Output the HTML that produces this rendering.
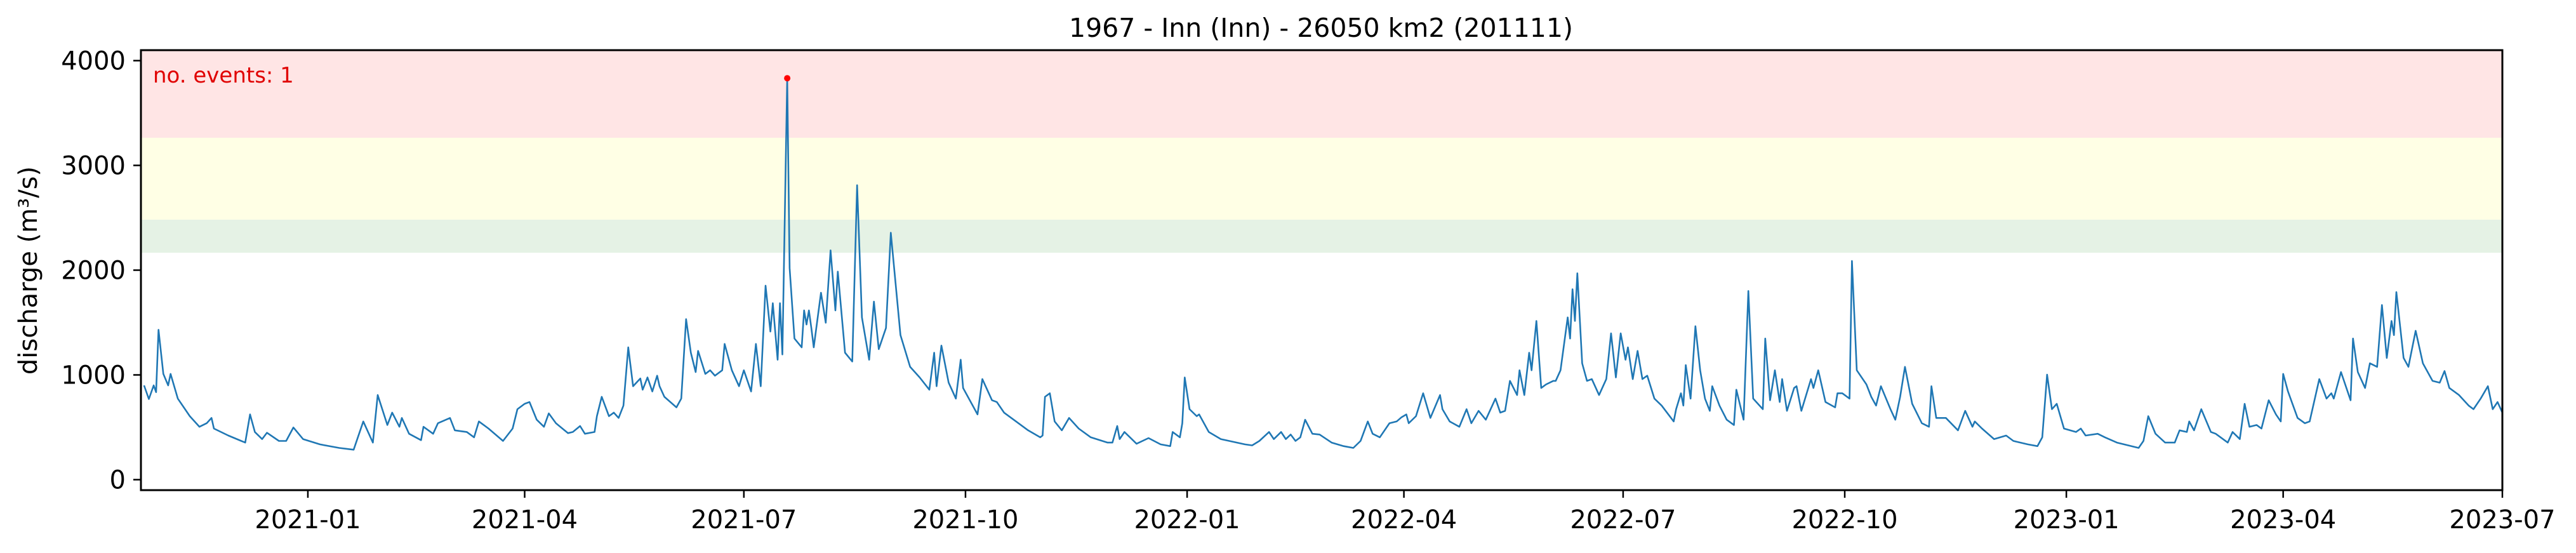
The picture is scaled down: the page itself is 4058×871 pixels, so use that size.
<!DOCTYPE html>
<html><head><meta charset="utf-8"><style>
html,body{margin:0;padding:0;background:#fff;}
svg{display:block;font-family:"DejaVu Sans","Liberation Sans",sans-serif;}
</style></head><body>
<svg id="chart" width="4058" height="871" viewBox="0 0 4058 871" xmlns="http://www.w3.org/2000/svg">
<g id="bands"></g>
<g id="series"></g>
<g id="axes"></g>
<text x="2081" y="58" font-size="41" text-anchor="middle" fill="#000">1967 - Inn (Inn) - 26050 km2 (201111)</text>
<text transform="translate(58,426) rotate(-90)" font-size="40" text-anchor="middle" fill="#000">discharge (m³/s)</text>
<text x="241" y="130" font-size="34" fill="#e00000">no. events: 1</text>
</svg>
<script>
// day offsets from 2021-01-01
const days = [-68,-66,-64,-63,-62,-60,-58,-57,-54,-49,-45,-42,-40,-39,-33,-26,-24,-22,-19,-17,-12,-9,-6,-2,5,13,19,23,27,29,33,35,38,39,42,47,48,52,54,59,61,66,69,71,75,81,85,87,90,92,95,98,100,103,108,110,113,115,119,120,122,125,127,129,131,133,135,138,139,141,143,145,146,148,153,155,157,159,161,162,165,167,169,172,173,176,179,181,184,186,188,190,192,193,195,196,197,199,200,202,205,206,207,208,209,210,213,215,217,219,220,223,226,228,230,233,235,237,240,242,246,250,254,258,260,261,263,266,269,271,272,276,278,280,284,286,289,294,299,304,305,306,308,310,313,316,320,325,332,334,336,337,339,344,349,354,358,359,362,363,364,366,369,370,374,379,389,392,395,399,401,404,406,408,410,412,414,417,420,425,430,434,437,440,442,445,449,452,454,456,457,460,463,466,470,471,474,478,481,483,486,489,493,495,497,499,502,503,505,507,508,510,512,514,517,518,520,523,524,525,526,527,529,531,533,536,539,541,543,545,547,548,550,552,554,556,559,562,567,568,570,571,572,574,576,578,580,582,583,586,589,592,593,596,598,600,604,605,607,609,611,612,614,617,618,620,624,625,627,630,634,635,637,640,641,643,647,649,651,653,657,659,661,663,666,670,673,674,676,680,685,688,691,692,695,700,705,708,714,718,720,722,724,726,729,734,736,738,743,746,751,760,762,764,767,771,775,777,780,781,783,786,790,792,797,799,802,804,806,809,811,814,817,819,820,822,826,829,831,835,838,840,841,844,848,849,851,854,856,859,861,863,865,866,867,870,872,875,878,882,885,887,889,893,897,899,902,905,907,909,911];
const discharge = [900,770,900,835,1431,1010,900,1010,774,606,505,539,589,488,421,354,623,455,387,448,370,370,498,387,337,303,286,556,354,808,522,640,505,589,438,377,505,438,539,589,471,455,404,556,488,370,488,673,724,741,572,505,633,539,444,455,512,438,455,606,791,606,640,589,707,1263,892,966,859,976,842,993,892,791,690,774,1532,1212,1027,1229,1010,1044,993,1044,1296,1044,892,1044,842,1296,892,1852,1414,1684,1145,1684,1195,3832,2020,1347,1263,1616,1481,1616,1448,1263,1785,1498,2189,1616,1986,1212,1128,2811,1549,1145,1700,1246,1448,2357,1380,1077,976,859,1212,892,1280,926,774,1145,875,707,623,960,758,741,640,556,471,404,421,791,825,556,471,589,488,404,354,354,512,387,455,343,397,337,320,455,404,539,976,673,606,623,455,387,337,327,370,455,387,455,387,431,370,404,572,438,431,354,320,303,370,556,438,404,539,556,596,623,539,606,825,589,808,673,556,505,673,539,657,572,774,640,657,943,808,1044,808,1212,1044,1515,875,909,943,943,1044,1549,1347,1818,1515,1970,1111,943,960,808,960,1397,976,1397,1145,1263,960,1229,960,993,774,707,556,673,825,707,1094,774,1465,1044,774,657,892,707,572,522,859,572,1801,774,673,1347,758,1044,741,960,657,875,892,657,960,875,1044,741,690,825,825,774,2088,1044,909,791,707,892,673,572,791,1077,724,539,505,892,589,589,471,657,505,556,488,387,421,370,337,320,404,1003,673,724,488,455,488,421,438,404,354,303,370,606,438,354,354,471,455,556,471,673,455,438,354,455,387,724,505,522,488,758,623,556,1010,842,589,539,556,960,774,825,774,1027,758,1347,1027,875,1111,1077,1667,1162,1515,1380,1791,1162,1077,1421,1111,943,926,1037,875,808,707,673,774,892,673,741,640];
const yTicks = [0,1000,2000,3000,4000];
const xTickLabels = ["2021-01","2021-04","2021-07","2021-10","2022-01","2022-04","2022-07","2022-10","2023-01","2023-04","2023-07"];
const xTickDays = [0,90,181,273,365,455,546,638,730,820,911];
const bandLimits = [2166,2482,3264,4100];
const bandColors = ["#e5f2e5","#ffffe5","#ffe5e5"];
const eventDays = [199];
const eventValues = [3832];

const NS="http://www.w3.org/2000/svg";
const L=222,R=3942,T=79,B=772;
const D0=-69.3,D1=911,V0=-100,V1=4100;
function xs(d){return L+(d-D0)/(D1-D0)*(R-L);}
function ys(v){return B-(v-V0)/(V1-V0)*(B-T);}
function mk(tag,attrs,parent){const e=document.createElementNS(NS,tag);for(const k in attrs)e.setAttribute(k,attrs[k]);parent.appendChild(e);return e;}

const bands=document.getElementById('bands');
for(let i=0;i<bandColors.length;i++){
  const r=mk('rect',{x:L,y:ys(bandLimits[i+1]),width:R-L,height:ys(bandLimits[i])-ys(bandLimits[i+1]),fill:bandColors[i]},bands);
  
  
}
const series=document.getElementById('series');
let d='';
for(let i=0;i<days.length;i++){d+=(i?'L':'M')+xs(days[i]).toFixed(1)+','+ys(discharge[i]).toFixed(1);}
const line=mk('path',{d:d,fill:'none',stroke:'#1f77b4','stroke-width':2.6,'stroke-linejoin':'round'},series);


for(let i=0;i<eventDays.length;i++){
  const c=mk('circle',{cx:xs(eventDays[i]),cy:ys(eventValues[i]),r:5,fill:'#ff0000'},series);
  
  
}
const axes=document.getElementById('axes');
const frame=mk('rect',{x:L,y:T,width:R-L,height:B-T,fill:'none',stroke:'#000','stroke-width':3},axes);


for(const v of yTicks){
  const y=ys(v);
  const t=mk('line',{x1:L-12,x2:L,y1:y,y2:y,stroke:'#000','stroke-width':2.5},axes);
  
  
  const tx=mk('text',{x:L-24,y:y+14,'font-size':40,'text-anchor':'end',fill:'#000'},axes);
  tx.textContent=v;
  
  
}
for(let i=0;i<xTickLabels.length;i++){
  const x=xs(xTickDays[i]);
  const t=mk('line',{x1:x,x2:x,y1:B,y2:B+12,stroke:'#000','stroke-width':2.5},axes);
  
  
  const tx=mk('text',{x:x,y:832,'font-size':40,'text-anchor':'middle',fill:'#000'},axes);
  tx.textContent=xTickLabels[i];
  
  
}
</script>
</body></html>
